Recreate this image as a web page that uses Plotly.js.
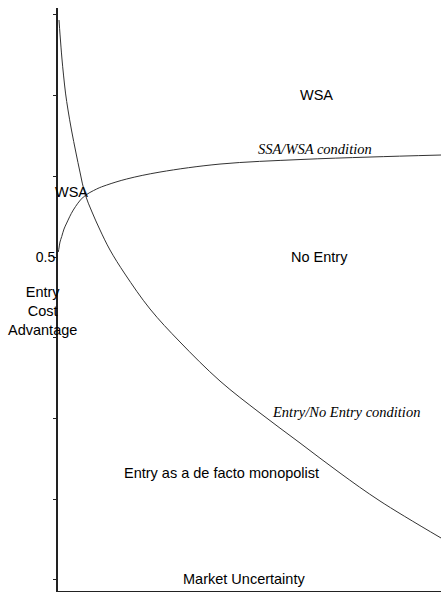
<!DOCTYPE html>
<html>
<head>
<meta charset="utf-8">
<script src="https://cdn.plot.ly/plotly-3.0.1.min.js"></script>
<style>html,body{margin:0;padding:0;background:#fff;}#chart{width:441px;height:592px;}</style>
</head>
<body>
<div id="chart"></div>
<script>
// Entry/No Entry condition curve
const entryX = [0.0026, 0.0052, 0.0078, 0.0104, 0.0144, 0.0196, 0.0261, 0.0352, 0.0470, 0.0574, 0.0705, 0.0888,
                0.1097, 0.1358, 0.1749, 0.2402, 0.3185, 0.4230, 0.5274, 0.6319, 0.7363, 0.8407, 1.0];
const entryY = [0.7937, 0.7763, 0.7602, 0.7454, 0.7255, 0.7032, 0.6822, 0.6574, 0.6289, 0.6053, 0.5781, 0.5558,
                0.5335, 0.5087, 0.4789, 0.4356, 0.3947, 0.3463, 0.3067, 0.2695, 0.2323, 0.1976, 0.1518];
// SSA/WSA condition curve
const ssaX = [0.0008, 0.0026, 0.0052, 0.0097, 0.0157, 0.0227, 0.0399, 0.0661, 0.1010, 0.1272, 0.1794, 0.2663,
              0.4230, 0.6319, 0.8146, 1.0];
const ssaY = [0.5062, 0.5112, 0.5186, 0.5254, 0.5347, 0.5421, 0.5582, 0.5743, 0.5843, 0.5892, 0.5967, 0.6053,
              0.6152, 0.6208, 0.6239, 0.6264];
// y-axis ticks
const yTickVals = [0.1, 0.2, 0.3, 0.4, 0.5, 0.6, 0.7, 0.8];
const yTickText = ['', '', '', '', '0.5', '', '', ''];

const sans = 'Liberation Sans, Arial, sans-serif';
const serif = 'Liberation Serif, Times New Roman, serif';
const lineStyle = {color: '#333', width: 1, shape: 'spline', smoothing: 1};

const traces = [
  {x: entryX, y: entryY, mode: 'lines', line: lineStyle, hoverinfo: 'skip', showlegend: false},
  {x: ssaX, y: ssaY, mode: 'lines', line: lineStyle, hoverinfo: 'skip', showlegend: false}
];

function ann(text, x, y, opts) {
  return Object.assign({text: text, x: x, y: y, xref: 'x', yref: 'y', showarrow: false,
    xanchor: 'center', yanchor: 'middle', font: {family: sans, size: 14.5, color: '#000'}}, opts || {});
}

const layout = {
  width: 441, height: 592,
  margin: {l: 58, r: 0, t: 8, b: 1, pad: 0},
  paper_bgcolor: '#fff', plot_bgcolor: '#fff',
  showlegend: false,
  xaxis: {range: [0, 1], showgrid: false, zeroline: false, showticklabels: false, ticks: '',
    showline: true, linecolor: '#222', linewidth: 2},
  yaxis: {range: [0.0861, 0.8086], showgrid: false, zeroline: false, tickvals: yTickVals, ticktext: yTickText,
    ticks: 'outside', ticklen: 3, tickwidth: 1, tickcolor: '#222', ticklabelstandoff: -5,
    tickfont: {family: sans, size: 14, color: '#000'},
    showline: true, linecolor: '#222', linewidth: 2},
  annotations: [
    ann('WSA', 0.676, 0.7007),
    ann('SSA/WSA condition', 0.671, 0.6338, {font: {family: serif, size: 14.5, color: '#000', style: 'italic'}}),
    ann('WSA', 0.034, 0.5805),
    ann('No Entry', 0.684, 0.5),
    ann('Entry/No Entry condition', 0.752, 0.3079, {font: {family: serif, size: 14.5, color: '#000', style: 'italic'}}),
    ann('Entry as a de facto monopolist', 0.428, 0.2323),
    ann('Market Uncertainty', 0.486, 0.101),
    ann('Entry<br>Cost<br>Advantage', -0.04, 0.4331, {xref: 'paper', align: 'center'})
  ]
};

Plotly.newPlot('chart', traces, layout, {staticPlot: true, displayModeBar: false});
</script>
</body>
</html>
